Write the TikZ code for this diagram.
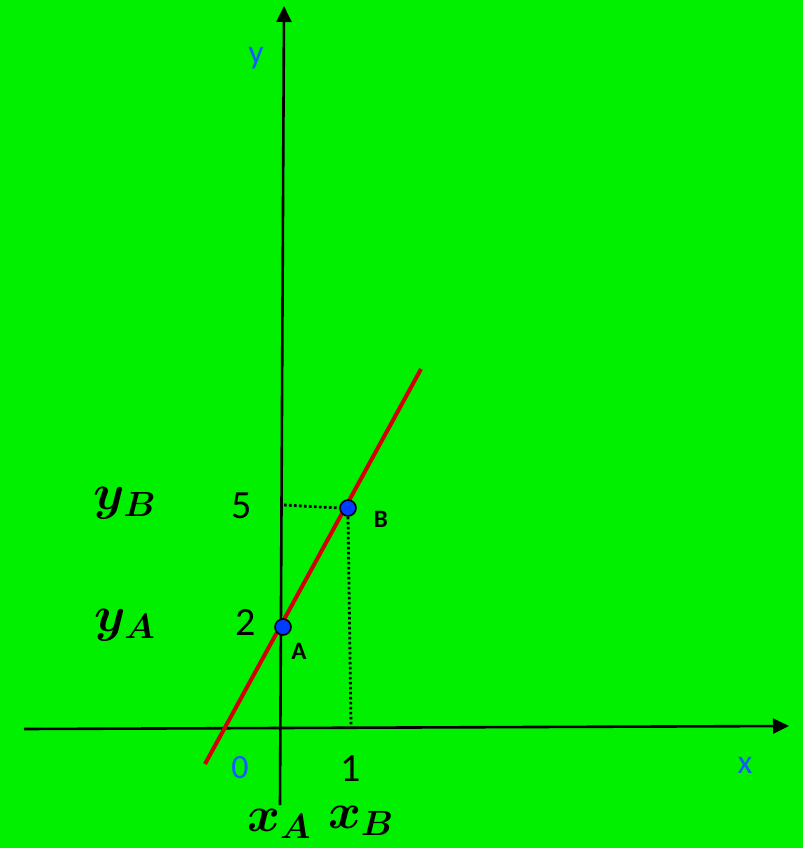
\RequirePackage{fix-cm}
\documentclass[tikz,border=0pt]{standalone}
\usepackage{fontspec}
\setmainfont{Carlito}
\usepackage{bm}
\usetikzlibrary{arrows.meta}
\definecolor{bg}{RGB}{0,240,0}
\definecolor{lblue}{RGB}{20,90,255}
\definecolor{ptblue}{RGB}{0,60,255}
\definecolor{lred}{RGB}{210,0,0}
\tikzset{
  axis/.style={line width=2.6pt,-{Triangle[width=15pt,length=16pt]}},
  guide/.style={line width=2.8pt,dash pattern=on 2.6pt off 2.4pt},
  pt/.style={circle,draw=black,fill=ptblue,line width=1.6pt,minimum size=16pt,inner sep=0pt},
  mathlbl/.style={inner sep=0pt,font=\fontsize{50}{50}\selectfont},
  numlbl/.style={inner sep=0pt,font=\fontsize{40}{40}\selectfont},
  bluelbl/.style={inner sep=0pt,text=lblue,font=\fontsize{34}{34}\selectfont},
  ptlbl/.style={inner sep=0pt,font=\bfseries\fontsize{25}{25}\selectfont}
}
\begin{document}
\begin{tikzpicture}[x=1pt,y=-1pt]
\fill[bg] (0,0) rectangle (803,848);
\useasboundingbox (0,0) rectangle (803,848);
% axes
\coordinate (ybot) at (280,805);
\coordinate (ytop) at (284,6);
\coordinate (xl) at (24,729);
\coordinate (xr) at (789,726);
\draw[axis] (xl) -- (xr);
\draw[axis] (ybot) -- (ytop);
% line
\coordinate (r1) at (205,764);
\coordinate (r2) at (421,369);
\draw[lred,line width=4pt] (r1) -- (r2);
% guides
\coordinate (gy) at (284,505);
\coordinate (gx) at (351,726);
\node[pt] (B) at (348,508) {};
\node[pt] (A) at (283,627) {};
\draw[guide] (gy) -- (B.west);
\draw[guide] (B.south) -- (gx);
% labels
\node[mathlbl] (yB) at (125,503) {$\bm{y_B}$};
\node[mathlbl] (yA) at (125,625) {$\bm{y_A}$};
\node[mathlbl] (xA) at (279,824) {$\bm{x_A}$};
\node[mathlbl] (xB) at (361,821) {$\bm{x_B}$};
\node[numlbl] (n5) at (242,506) {5};
\node[numlbl] (n2) at (246,623) {2};
\node[numlbl] (n1) at (351,769) {1};
\node[bluelbl] (n0) at (240,768) {0};
\node[bluelbl] (lx) at (745,765) {x};
\node[bluelbl] (ly) at (256,58) {y};
\node[ptlbl] (lB) at (381,519) {B};
\node[ptlbl] (lA) at (299,651) {A};
\end{tikzpicture}
\end{document}
